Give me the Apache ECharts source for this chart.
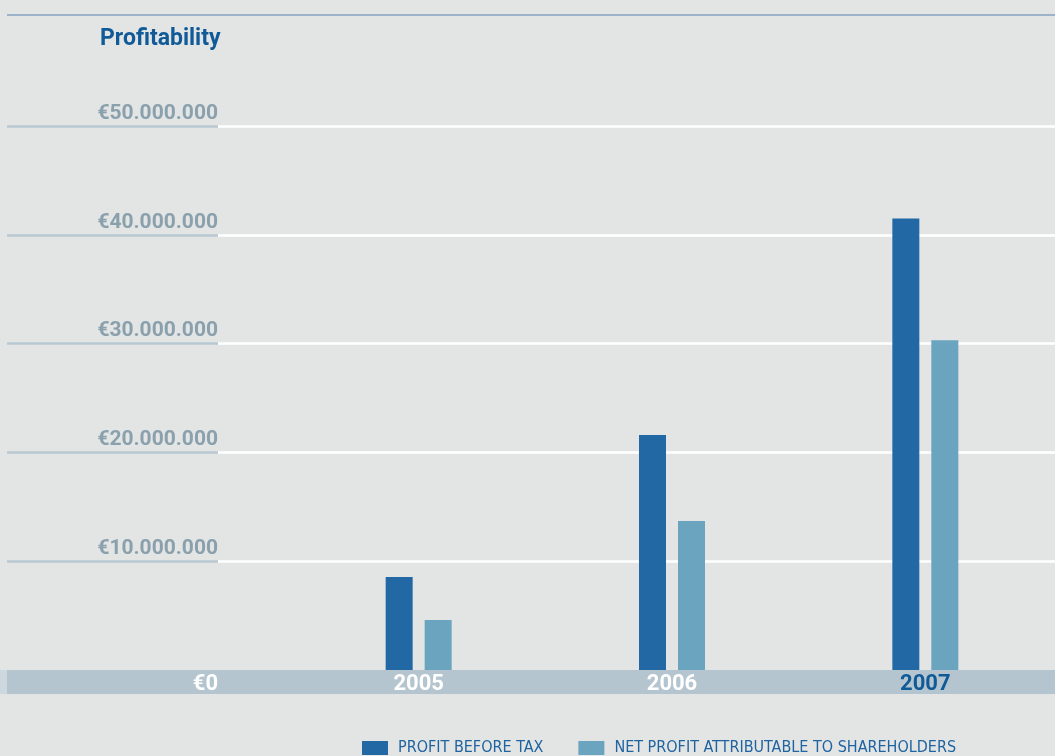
<!DOCTYPE html>
<html><head><meta charset="utf-8">
<script src="https://cdn.jsdelivr.net/npm/echarts@6/dist/echarts.min.js"></script>
<style>html,body{margin:0;padding:0;background:#e3e5e5}#c{width:1055px;height:756px}</style>
</head><body><div id="c"></div>
<script>
const title = 'Profitability';
const years = ['2005', '2006', '2007'];
const seriesNames = ['PROFIT BEFORE TAX', 'NET PROFIT ATTRIBUTABLE TO SHAREHOLDERS'];
const profitBeforeTax = [8550000, 21600000, 41500000];
const netProfit = [4600000, 13700000, 30300000];
const yMin = 0, yMax = 50000000, yStep = 10000000;

const fmt = v => '€' + String(v).replace(/\B(?=(\d{3})+(?!\d))/g, '.');
const BOLD = 'Roboto, "Liberation Sans", sans-serif';
const NARROW = '"Liberation Sans Narrow", "DejaVu Sans Condensed", Roboto, sans-serif';
const gTop = 126, gBottom = 86, bandBottom = 74;

const chart = echarts.init(document.getElementById('c'), null, {renderer: 'canvas'});
chart.setOption({
  backgroundColor: '#e3e5e5',
  animation: false,
  title: {text: title, left: 100, top: 28, padding: 0,
    textStyle: {fontFamily: BOLD, fontWeight: 'bold', fontSize: 23, color: '#105a98'}},
  graphic: [{type: 'line', shape: {x1: 7, y1: 15, x2: 1055, y2: 15},
    style: {stroke: '#86a2c2', lineWidth: 1.5}}],
  legend: {left: 362, top: 740, padding: 0, itemWidth: 26, itemHeight: 14, itemGap: 35, icon: 'rect',
    data: seriesNames,
    textStyle: {fontFamily: NARROW, fontSize: 16, color: '#1f63a0', padding: [1, 0, 0, 5]}},
  grid: [
    {left: 292, right: 3, top: gTop, bottom: gBottom},
    {left: 218, right: 0, top: gTop, bottom: gBottom},
    {left: 7, right: 1055 - 218, top: gTop, bottom: gBottom},
    {left: 7, right: 0, top: gTop, bottom: bandBottom},
    {left: 0, right: 1048, top: gTop, bottom: bandBottom}
  ],
  xAxis: [
    {type: 'category', gridIndex: 0,
      data: years.map((y, i) => i === years.length - 1 ? {value: y, textStyle: {color: '#105a98'}} : y),
      axisLine: {show: false}, axisTick: {show: false},
      axisLabel: {margin: 3, fontFamily: BOLD, fontWeight: 'bold', fontSize: 22, color: '#ffffff'}},
    {type: 'value', gridIndex: 1, show: false},
    {type: 'value', gridIndex: 2, show: false},
    {type: 'value', gridIndex: 3, axisLabel: {show: false}, axisTick: {show: false}, splitLine: {show: false},
      axisLine: {show: true, lineStyle: {color: '#b4c5cf', width: 24, cap: 'butt'}}},
    {type: 'value', gridIndex: 4, axisLabel: {show: false}, axisTick: {show: false}, splitLine: {show: false},
      axisLine: {show: true, lineStyle: {color: '#cdd8de', width: 24, cap: 'butt'}}}
  ],
  yAxis: [
    {type: 'value', gridIndex: 0, min: yMin, max: yMax, interval: yStep, show: false},
    {type: 'value', gridIndex: 1, min: yMin, max: yMax, interval: yStep,
      axisLine: {show: false}, axisTick: {show: false},
      splitLine: {show: true, showMinLine: false, lineStyle: {color: '#ffffff', width: 2.5}},
      axisLabel: {showMinLabel: false, margin: 0, align: 'right', verticalAlign: 'bottom', padding: [0, 0, 2, 0],
        fontFamily: BOLD, fontWeight: 'bold', fontSize: 21, color: '#8aa1ad', formatter: fmt}},
    {type: 'value', gridIndex: 1, min: yMin, max: yMax, interval: yStep, position: 'left',
      axisLine: {show: false}, axisTick: {show: false}, splitLine: {show: false},
      axisLabel: {margin: 0, align: 'right', verticalAlign: 'top', padding: [3, 0, 0, 0],
        fontFamily: BOLD, fontWeight: 'bold', fontSize: 22, color: '#ffffff',
        formatter: v => v === yMin ? fmt(v) : ''}},
    {type: 'value', gridIndex: 2, min: yMin, max: yMax, interval: yStep,
      axisLine: {show: false}, axisTick: {show: false}, axisLabel: {show: false},
      splitLine: {show: true, showMinLine: false, lineStyle: {color: '#b8c8d2', width: 2.5}}},
    {type: 'value', gridIndex: 3, min: yMin, max: yMax, show: false},
    {type: 'value', gridIndex: 4, min: yMin, max: yMax, show: false}
  ],
  series: [
    {name: seriesNames[0], type: 'bar', xAxisIndex: 0, yAxisIndex: 0, data: profitBeforeTax,
      barWidth: 27, barGap: '44.4%', itemStyle: {color: '#2268a5'}},
    {name: seriesNames[1], type: 'bar', xAxisIndex: 0, yAxisIndex: 0, data: netProfit,
      barWidth: 27, barGap: '44.4%', itemStyle: {color: '#6aa4bf'}}
  ]
});
</script>
</body></html>
